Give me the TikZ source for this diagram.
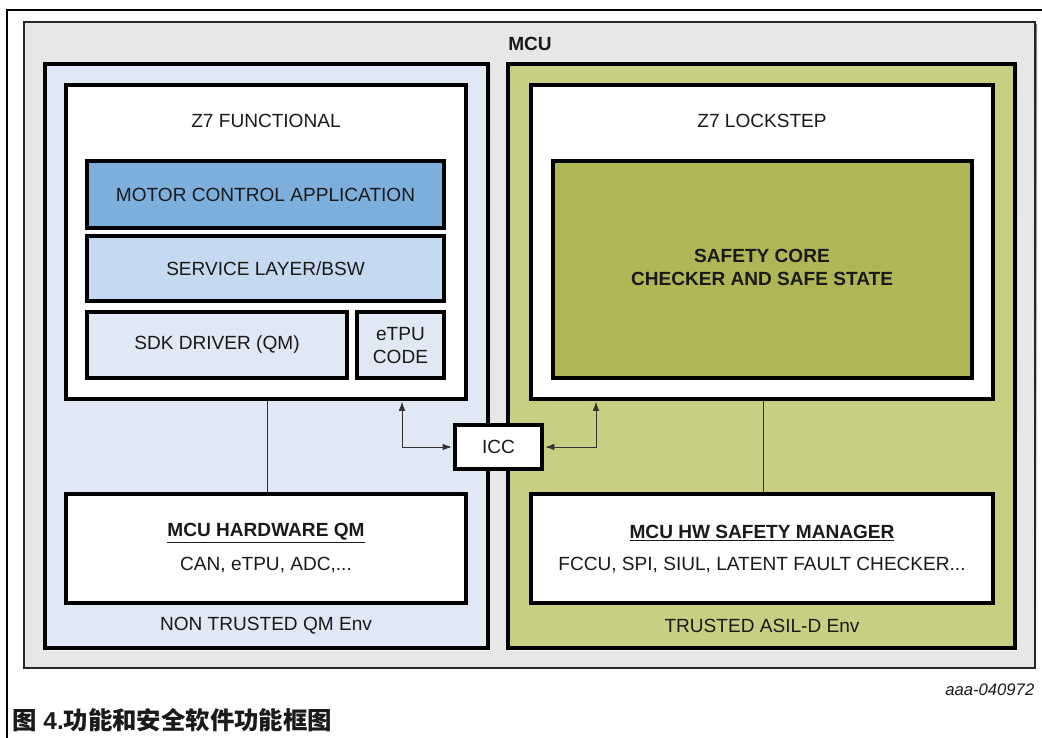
\documentclass[tikz,border=0pt]{standalone}
\usepackage{fontspec}
\setmainfont{Liberation Sans}
\newfontfamily\cjk{Noto Sans CJK SC}
\usetikzlibrary{fit,arrows.meta}
\definecolor{mcugray}{HTML}{E6E7E6}
\definecolor{qmenv}{HTML}{DFE8F5}
\definecolor{asilenv}{HTML}{C8CF82}
\definecolor{motor}{HTML}{7DAFDC}
\definecolor{service}{HTML}{C5D9F1}
\definecolor{safety}{HTML}{B0B656}
\definecolor{txt}{HTML}{1A1A1A}
\definecolor{shade}{HTML}{555555}
\begin{document}
\begin{tikzpicture}[x=0.75pt,y=-0.75pt,
  every node/.style={font=\fontsize{14.3pt}{17pt}\selectfont, text=txt},
  thickbox/.style={draw=black, line width=2.3pt, inner sep=0pt, align=center},
  mcubox/.style={draw=black!85, line width=1.3pt, fill=mcugray, inner sep=0pt},
  conn/.style={draw=black!80, line width=0.75pt},
  biarrow/.style={conn, {Latex[length=7pt,width=5pt]}-{Latex[length=7pt,width=5pt]}},
  bold/.style={font=\fontsize{14.3pt}{17pt}\selectfont\bfseries},
]
\useasboundingbox (0,0) rectangle (1042,738);
\fill[white] (0,0) rectangle (1042,738);
% outer frame
\draw[line width=1.6pt] (7,738) -- (7,10) -- (1042,10);
% MCU box with shadow
\fill[shade] (27,25) rectangle (1037,670);
\node[mcubox, fit={(24,22)(1035,668)}] (mcu) {};
\node[bold] (mculabel) at (530,44) {MCU};
% environments
\fill[shade] (47,66) rectangle (490,650);
\node[thickbox, fill=qmenv, fit={(45,64)(488,648)}] (qm) {};
\fill[shade] (510,66) rectangle (1017,650);
\node[thickbox, fill=asilenv, fit={(508,64)(1015,648)}] (asil) {};
% left side
\node[thickbox, fill=white, fit={(66,85)(466,399)}] (z7f) {};
\node (z7ft) at (266,121) {Z7 FUNCTIONAL};
\node[thickbox, fill=motor, fit={(87,161)(444,228)}] (mca) {};
\node at (mca.center) {MOTOR CONTROL APPLICATION};
\node[thickbox, fill=service, fit={(87,236)(444,301)}] (sl) {};
\node at (sl.center) {SERVICE LAYER/BSW};
\node[thickbox, fill=qmenv, fit={(87,312)(347,378)}] (sdk) {};
\node at (sdk.center) {SDK DRIVER (QM)};
\node[thickbox, fill=qmenv, fit={(357,312)(444,378)}] (etpu) {};
\node[align=center, font=\fontsize{14.3pt}{17.25pt}\selectfont] at ([yshift=-0.5pt]etpu.center) {eTPU\\CODE};
\node[thickbox, fill=white, fit={(66,494)(466,603)}] (hwqm) {};
\node[bold] (hwqmt) at (266,533) {\underline{MCU HARDWARE QM}};
\node (hwqms) at (266,565) {CAN, eTPU, ADC,...};
\node (qmt) at (266,626) {NON TRUSTED QM Env};
% right side
\node[thickbox, fill=white, fit={(531,85)(993,399)}] (z7l) {};
\node (z7lt) at (762,121) {Z7 LOCKSTEP};
\node[thickbox, fill=safety, fit={(553,161)(972,378)}] (sc) {};
\node[align=center, font=\fontsize{14.3pt}{17.25pt}\selectfont\bfseries] (sct) at (762,267) {SAFETY CORE\\CHECKER AND SAFE STATE};
\node[thickbox, fill=white, fit={(531,494)(993,603)}] (hwsm) {};
\node[bold] (hwsmt) at (762,533) {\underline{MCU HW SAFETY MANAGER}};
\node (hwsms) at (762,565) {FCCU, SPI, SIUL, LATENT FAULT CHECKER...};
\node (asilt) at (762,626) {TRUSTED ASIL-D Env};
% ICC
\node[thickbox, fill=white, fit={(455,425)(542,469)}] (icc) {};
\node at (icc.center) {ICC};
% connectors
\draw[conn] (z7f.south -| 267,0) -- (hwqm.north -| 267,0);
\draw[conn] (z7l.south -| 763,0) -- (hwsm.north -| 763,0);
\coordinate (la) at (402,401.5);
\coordinate (ra) at (596,401.5);
\draw[biarrow] (la) |- ([xshift=-1.2pt]icc.west);
\draw[biarrow] (ra) |- ([xshift=1.2pt]icc.east);
% captions
\node[anchor=east, font=\fontsize{12.5pt}{14pt}\selectfont\itshape] (code) at (1039,690) {aaa-040972};
\node[anchor=west, font=\fontsize{18.3pt}{22pt}\selectfont, inner sep=0pt] (cap) at (12,720) {{\cjk\bfseries 图} {\bfseries 4.}{\cjk\bfseries 功能和安全软件功能框图}};
\end{tikzpicture}
\end{document}
